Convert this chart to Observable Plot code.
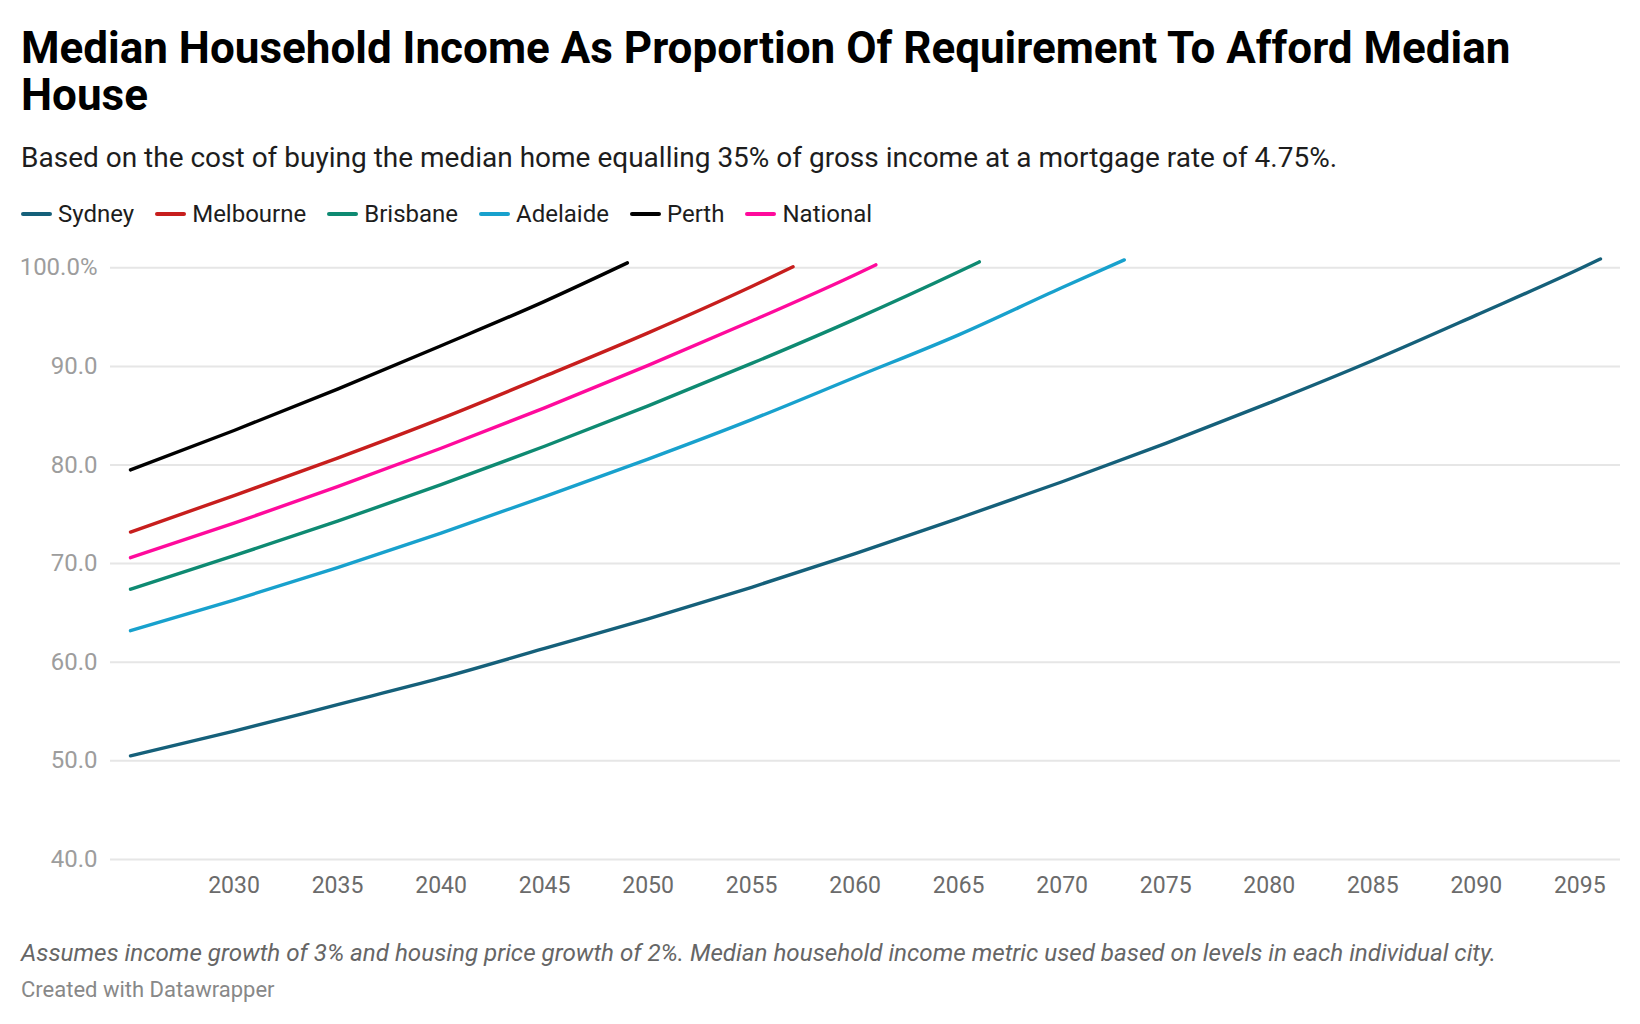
<!DOCTYPE html>
<html>
<head>
<meta charset="utf-8">
<script src="https://cdn.jsdelivr.net/npm/d3@7"></script>
<script src="https://cdn.jsdelivr.net/npm/@observablehq/plot@0.6"></script>
<style>
  html, body { margin: 0; padding: 0; background: #fff; }
  body { width: 1640px; height: 1024px; position: relative; font-family: Roboto, "Noto Sans", sans-serif; overflow: hidden; }
  #title { position: absolute; left: 21px; top: 24.5px; width: 1560px; font-size: 44px; line-height: 47px; font-weight: 700; color: #000; }
  #subtitle { position: absolute; left: 21px; top: 144px; font-size: 28px; line-height: 28px; color: #1d1d1d; white-space: nowrap; }
  #legend { position: absolute; left: 21px; top: 202px; height: 24px; display: flex; align-items: center; font-size: 24px; line-height: 24px; color: #1d1d1d; white-space: nowrap; }
  .item { display: flex; align-items: center; margin-right: 21px; }
  .sw { display: inline-block; width: 31px; height: 4px; border-radius: 2px; margin-right: 6px; }
  #chart { position: absolute; left: 0; top: 240px; }
  #caption { position: absolute; left: 21px; top: 941px; font-size: 24.2px; line-height: 24px; font-style: italic; color: #666; white-space: nowrap; }
  #credit { position: absolute; left: 21px; top: 978.5px; font-size: 22px; line-height: 22px; color: #888; white-space: nowrap; }
</style>
</head>
<body>
<div id="title">Median Household Income As Proportion Of Requirement To Afford Median House</div>
<div id="subtitle">Based on the cost of buying the median home equalling 35% of gross income at a mortgage rate of 4.75%.</div>
<div id="legend"></div>
<div id="chart"></div>
<div id="caption">Assumes income growth of 3% and housing price growth of 2%. Median household income metric used based on levels in each individual city.</div>
<div id="credit">Created with Datawrapper</div>
<script>
// ---- data ----
const cities = ["Sydney", "Melbourne", "Brisbane", "Adelaide", "Perth", "National"];
const colors = ["#15607a", "#c71e1d", "#0e8a72", "#18a1cd", "#000000", "#ff0a9c"];

const sydneyYears    = [2025, 2030, 2035, 2040, 2045, 2050, 2055, 2060, 2065, 2070, 2075, 2080, 2085, 2090, 2095, 2096];
const sydneyValues   = [50.5, 53.0, 55.7, 58.4, 61.4, 64.4, 67.6, 71.0, 74.6, 78.3, 82.2, 86.3, 90.6, 95.2, 99.9, 100.9];

const melbourneYears  = [2025, 2030, 2035, 2040, 2045, 2050, 2055, 2057];
const melbourneValues = [73.2, 76.9, 80.7, 84.7, 89.0, 93.4, 98.1, 100.1];

const brisbaneYears  = [2025, 2030, 2035, 2040, 2045, 2050, 2055, 2060, 2065, 2066];
const brisbaneValues = [67.4, 70.8, 74.3, 78.0, 81.9, 86.0, 90.3, 94.8, 99.6, 100.6];

const adelaideYears  = [2025, 2030, 2035, 2040, 2045, 2050, 2055, 2060, 2065, 2070, 2073];
const adelaideValues = [63.2, 66.3, 69.6, 73.1, 76.8, 80.6, 84.6, 88.9, 93.2, 98.0, 100.8];

const perthYears  = [2025, 2030, 2035, 2040, 2045, 2049];
const perthValues = [79.5, 83.5, 87.7, 92.1, 96.6, 100.5];

const nationalYears  = [2025, 2030, 2035, 2040, 2045, 2050, 2055, 2060, 2061];
const nationalValues = [70.6, 74.1, 77.8, 81.7, 85.8, 90.1, 94.6, 99.3, 100.3];

const xTicks = [2030, 2035, 2040, 2045, 2050, 2055, 2060, 2065, 2070, 2075, 2080, 2085, 2090, 2095];
const yTicks = [40, 50, 60, 70, 80, 90, 100];
const yTickLabels = ["40.0", "50.0", "60.0", "70.0", "80.0", "90.0", "100.0%"];

// ---- build table ----
const seriesYears = [sydneyYears, melbourneYears, brisbaneYears, adelaideYears, perthYears, nationalYears];
const seriesValues = [sydneyValues, melbourneValues, brisbaneValues, adelaideValues, perthValues, nationalValues];
const data = [];
cities.forEach((city, i) => {
  seriesYears[i].forEach((year, j) => data.push({city, year, value: seriesValues[i][j]}));
});

// ---- legend ----
const legend = document.getElementById("legend");
cities.forEach((c, i) => {
  const it = document.createElement("div");
  it.className = "item";
  const sw = document.createElement("span");
  sw.className = "sw";
  sw.style.background = colors[i];
  it.appendChild(sw);
  it.appendChild(document.createTextNode(c));
  legend.appendChild(it);
});

// ---- chart ----
const chart = Plot.plot({
  width: 1640,
  height: 670,
  marginLeft: 110,
  marginRight: 20,
  marginTop: 27.3,
  marginBottom: 51.1,
  x: {domain: [2025, 2096], insetLeft: 20, insetRight: 20},
  y: {domain: [40, 100]},
  color: {domain: cities, range: colors},
  style: {fontFamily: "Roboto, sans-serif", fontSize: "23px", background: "white", overflow: "visible"},
  marks: [
    Plot.ruleY(yTicks, {stroke: "#e6e6e6", strokeWidth: 2}),
    Plot.axisY(yTicks, {
      tickSize: 0, tickPadding: 13, label: null, fill: "#9d9d9d", fontSize: 24,
      tickFormat: d => yTickLabels[yTicks.indexOf(d)]
    }),
    Plot.axisX(xTicks, {
      tickSize: 0, tickPadding: 17, label: null, fill: "#6b6b6b", fontSize: 23,
      tickFormat: d => String(d)
    }),
    Plot.line(data, {
      x: "year", y: "value", z: "city", stroke: "city", curve: "monotone-x",
      strokeWidth: 3.4, strokeLinecap: "round", strokeLinejoin: "round"
    })
  ]
});
document.getElementById("chart").appendChild(chart);
</script>
</body>
</html>
